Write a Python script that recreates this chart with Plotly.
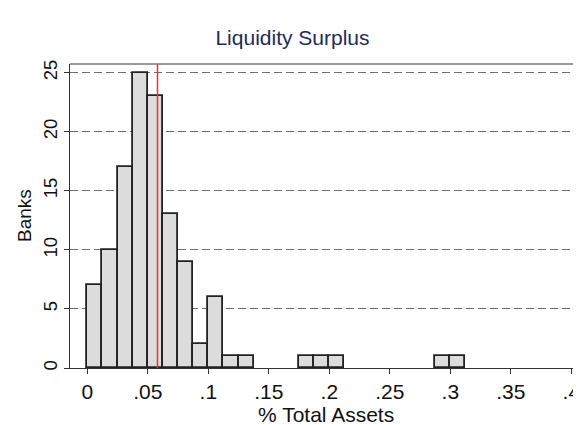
import plotly.graph_objects as go

bin_width = 0.0125
bin_left = [0.0, 0.0125, 0.025, 0.0375, 0.05, 0.0625, 0.075, 0.0875, 0.1, 0.1125, 0.125,
            0.175, 0.1875, 0.2, 0.2875, 0.3]
counts = [7, 10, 17, 25, 23, 13, 9, 2, 6, 1, 1, 1, 1, 1, 1, 1]
mean_value = 0.058
xtick_vals = [0, 0.05, 0.1, 0.15, 0.2, 0.25, 0.3, 0.35, 0.4]
xtick_text = ["0", ".05", ".1", ".15", ".2", ".25", ".3", ".35", ".4"]
ytick_vals = [0, 5, 10, 15, 20, 25]

centers = [b + bin_width / 2 for b in bin_left]

fig = go.Figure()
fig.add_trace(go.Bar(
    x=centers, y=counts, width=bin_width,
    marker=dict(color="#dcdcdc", line=dict(color="#222222", width=1.8)),
    showlegend=False, hoverinfo="skip",
))

font = "Liberation Sans, Arial, sans-serif"
# page body has an 8px default margin, so the figure is 8px smaller
fig.update_layout(
    width=573, height=417,
    margin=dict(l=62, r=0, t=56, b=57),
    paper_bgcolor="white", plot_bgcolor="white",
    title=dict(text="Liquidity Surplus", x=0.4965, xanchor="center", y=0.929, yanchor="middle",
               font=dict(family=font, size=21, color="#1c2d5a")),
    font=dict(family=font, size=20, color="#111111"),
    bargap=0,
)
fig.update_xaxes(
    range=[-0.0143, 0.408], tickvals=xtick_vals, ticktext=xtick_text,
    showgrid=False, zeroline=False, showline=True, linecolor="#333333", linewidth=1.2,
    ticks="outside", ticklen=5, tickcolor="#333333", tickwidth=1,
    tickfont=dict(size=21, color="#111111"), ticklabeloverflow="allow",
    automargin=False,
)
fig.update_yaxes(
    range=[0, 25.74], tickvals=ytick_vals, tickangle=-90,
    showgrid=True, gridcolor="#6e6e6e", griddash="8px,4px", gridwidth=1,
    zeroline=False, showline=True, linecolor="#333333", linewidth=1.2,
    ticks="outside", ticklen=5, tickcolor="#333333", tickwidth=1,
    tickfont=dict(size=18.5, color="#111111"),
    automargin=False,
)
fig.add_annotation(text="% Total Assets", xref="paper", yref="paper", x=0.501, y=0,
                   xanchor="center", yanchor="middle", yshift=-46, showarrow=False,
                   font=dict(family=font, size=21, color="#111111"))
fig.add_annotation(text="Banks", xref="paper", yref="paper", x=0, y=0.5, textangle=-90,
                   xanchor="center", yanchor="middle", xshift=-46, showarrow=False,
                   font=dict(family=font, size=19, color="#111111"))
# top frame line
fig.add_shape(type="line", xref="paper", yref="paper", x0=0, x1=1, y0=1, y1=1,
              line=dict(color="#333333", width=1.2))
# mean line
fig.add_shape(type="line", xref="x", yref="paper", x0=mean_value, x1=mean_value, y0=0, y1=1,
              line=dict(color="#ff2b2b", width=1.5))

fig.write_html("out.html")
